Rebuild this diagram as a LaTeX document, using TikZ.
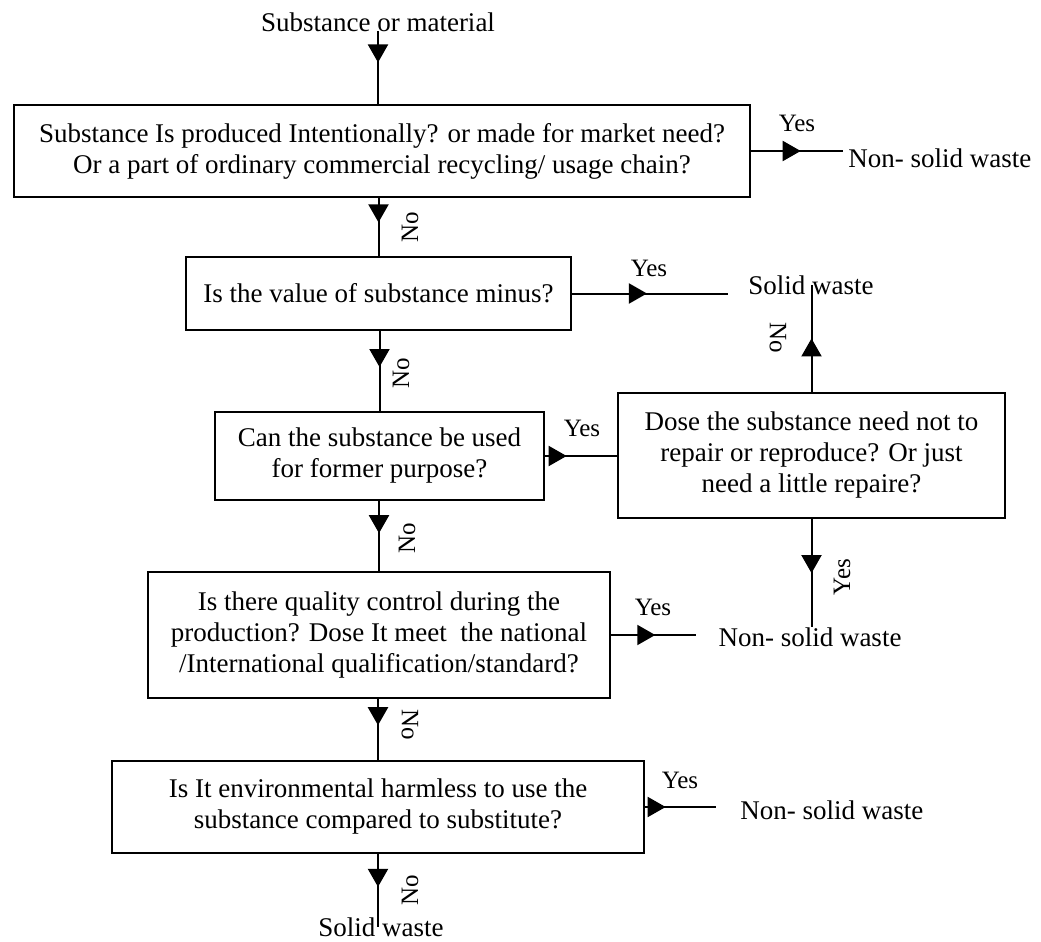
\documentclass[tikz,border=0pt]{standalone}
\usepackage{fontspec}
\setmainfont{Liberation Serif}
\usetikzlibrary{decorations.markings,arrows.meta}
\newcommand\maintext{\fontsize{13.5}{15.5}\selectfont}
\newcommand\lbltext{\fontsize{12.5}{14}\selectfont}
\begin{document}
\begin{tikzpicture}[x=0.5pt,y=-0.5pt,
  box/.style={draw,line width=1.1pt,inner sep=0pt,align=center,font=\maintext},
  txt/.style={font=\maintext,inner sep=0pt},
  lbl/.style={font=\lbltext,inner sep=0pt},
  conn/.style={line width=1pt},
  arr/.style={conn,postaction={decorate},decoration={markings,mark=at position #1 with {\arrow{Triangle[length=9pt,width=10pt]}}}}]
\useasboundingbox (0,0) rectangle (1041,942);

% boxes
\node[box,minimum width=368pt,minimum height=46pt] (b1) at (382,151) {Substance Is produced Intentionally? or made for market need?\\Or a part of ordinary commercial recycling/ usage chain?};
\node[box,minimum width=192.5pt,minimum height=36.5pt] (b2) at (378.5,293.5) {Is the value of substance minus?};
\node[box,minimum width=164.5pt,minimum height=44pt] (b3) at (379.5,456) {Can the substance be used\\for former purpose?};
\node[box,minimum width=193.5pt,minimum height=62.5pt] (b4) at (811.5,455.5) {Dose the substance need not to\\repair or reproduce? Or just\\need a little repaire?};
\node[box,minimum width=231pt,minimum height=63pt] (b5) at (379,635) {Is there quality control during the\\production? Dose It meet~ the national\\/International qualification/standard?};
\node[box,minimum width=266pt,minimum height=46pt] (b6) at (378,807) {Is It environmental harmless to use the\\substance compared to substitute?};

% terminal texts
\node[txt] (start) at (378,22) {Substance or material};
\node[txt,anchor=west] (nsw1) at (848,158) {Non- solid waste};
\node[txt] (sw1) at (811,285) {Solid waste};
\node[txt] (nsw2) at (810,637) {Non- solid waste};
\node[txt,anchor=west] (nsw3) at (740,810) {Non- solid waste};
\node[txt] (sw2) at (381,927) {Solid waste};

% free ends
\coordinate (e1) at (843,152);
\coordinate (e2) at (728,293);
\coordinate (e5) at (696,636);
\coordinate (e6) at (716,807);

% vertical connectors
\draw[arr=0.43] (start.base) -- (start.base |- b1.north);
\draw[arr=0.42] (b1.south -| b2.north) -- (b2.north);
\draw[arr=0.45] (b2.south -| b3.north) -- (b3.north);
\draw[arr=0.46] (b3.south -| b5.north) -- (b5.north);
\draw[arr=0.43] (b5.south -| b6.north) -- (b6.north);
\draw[arr=0.45] (b6.south) -- (b6.south |- sw2.center);
\draw[arr=0.5] (b4.north) -- (b4.north |- sw1.center);
\draw[arr=0.5] (b4.south) -- (b4.south |- nsw2.north);

% horizontal connectors
\draw[arr=0.54] (b1.east) -- (b1.east -| e1);
\draw[arr=0.48] (b2.east) -- (b2.east -| e2);
\draw[arr=0.3] (b3.east) -- (b3.east -| b4.west);
\draw[arr=0.52] (b5.east) -- (b5.east -| e5);
\draw[arr=0.29] (b6.east) -- (b6.east -| e6);

% labels
\node[lbl] (y1) at (797,123) {Yes};
\node[lbl] (y2) at (649,268) {Yes};
\node[lbl] (y3) at (582,428) {Yes};
\node[lbl] (y5) at (653,607) {Yes};
\node[lbl] (y6) at (680,780) {Yes};
\node[lbl,rotate=90] (y4) at (842,577) {Yes};
\node[lbl,rotate=90] (n1) at (410,227) {No};
\node[lbl,rotate=90] (n2) at (401,373) {No};
\node[lbl,rotate=90] (n3) at (407,538) {No};
\node[lbl,rotate=-90] (n5) at (410,725) {No};
\node[lbl,rotate=90] (n6) at (410,890) {No};
\node[lbl,rotate=-90] (n4) at (778,338) {No};
\end{tikzpicture}
\end{document}
